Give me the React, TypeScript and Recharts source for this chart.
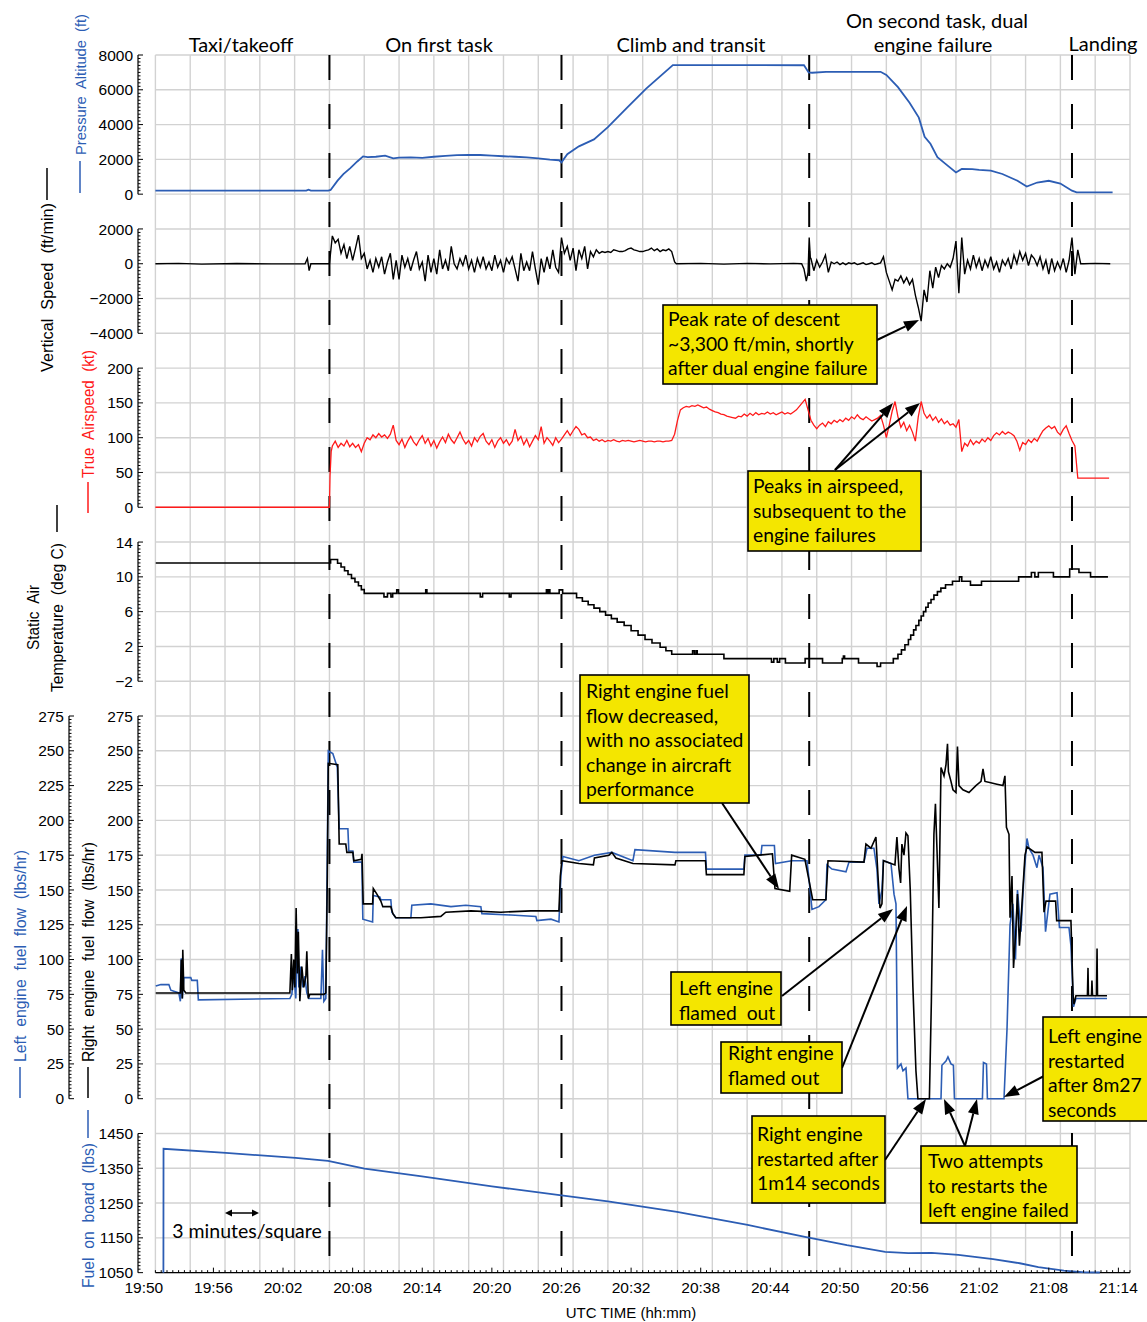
import React from 'react';
import { LineChart, Line, XAxis, YAxis, ReferenceLine } from 'recharts';

// ---------------- layout constants ----------------
const W = 1147;
const H = 1322;
const AXIS_X = 138;
const PLOT_RIGHT = 1130;
const GRID_TOP = 55;
const SQ = 34.79;
const rowY = (k: number) => GRID_TOP + k * SQ;
const T_MIN = -0.5;
const T_MAX = 85;

const BLUE = '#2c5db4';
const RED = '#ff1a1a';
const BLACK = '#000000';
const GRID = '#d2d2d2';
const YELLOW = '#f4e600';
const FONT_TICK = '"Liberation Sans", Arial, Helvetica, sans-serif';
const FONT_NOTE = 'Lato, "Open Sans", "Noto Sans", sans-serif';

// ---------------- data (time t = minutes after 19:50 UTC) ----------------
const xTickMinutes = [0, 6, 12, 18, 24, 30, 36, 42, 48, 54, 60, 66, 72, 78, 84];
const xTickLabels = ['19:50', '19:56', '20:02', '20:08', '20:14', '20:20', '20:26', '20:32', '20:38', '20:44', '20:50', '20:56', '21:02', '21:08', '21:14'];
const phaseBoundaries = [16, 36, 57.35, 80];

const altTicks = [0, 2000, 4000, 6000, 8000];
const vsTicks = [-4000, -2000, 0, 2000];
const tasTicks = [0, 50, 100, 150, 200];
const satTicks = [-2, 2, 6, 10, 14];
const ffTicks = [0, 25, 50, 75, 100, 125, 150, 175, 200, 225, 250, 275];
const fobTicks = [1050, 1150, 1250, 1350, 1450];

// Pressure altitude (ft)
const altitude = [
  [1.0, 200], [5, 205], [10, 200], [14.0, 200], [14.2, 260], [14.4, 205], [15.9, 200], [16.1, 240],
  [16.7, 780], [17.2, 1150], [17.8, 1500], [18.4, 1880], [18.9, 2170], [19.3, 2130], [20.0, 2150],
  [20.8, 2210], [21.5, 2060], [22.0, 2100], [23.0, 2120], [24.0, 2090], [25.0, 2150], [26.0, 2200],
  [27.0, 2240], [28.0, 2260], [29.0, 2250], [30.0, 2220], [31.0, 2180], [32.0, 2150], [33.0, 2120],
  [34.0, 2060], [35.0, 1990], [35.8, 1950], [36.0, 1830], [36.5, 2300], [37.5, 2750], [38.8, 3150],
  [40.0, 3850], [41.7, 5000], [43.3, 6070], [45.6, 7420], [50, 7420], [56.9, 7410], [57.3, 7000],
  [57.6, 6980], [58.8, 7035], [63.5, 7035], [64.0, 6850], [65.0, 6150], [66.0, 5250], [66.8, 4400],
  [67.3, 3300], [67.8, 2900], [68.4, 2120], [69.1, 1740], [70.0, 1250], [70.5, 1450], [71.4, 1440],
  [72.0, 1400], [73.0, 1350], [74.0, 1160], [75.3, 770], [76.1, 440], [77.0, 670], [78.0, 770],
  [79.0, 610], [80.0, 200], [80.4, 100], [83.5, 100],
];

// Vertical speed (ft/min)
const vsStart = [[1, 0], [3, 20], [5, -20], [8, 10], [11, -10], [13.9, 0], [14.1, 300], [14.25, -400], [14.4, 0], [15.9, 0]];
const vsNoiseA = [ // from 16.00, every 0.25 min
  0, 1600, 1200, 1400,
  600, 1100, 300, 1000,
  200, 900, 1650, 300,
  600, -300, 200, -500,
  300, -200, 400, -600,
  100, 600, -900, 200,
  -900, 500, -200, 300,
  -400, 200, 700, -300,
  100, -1000, 500, -500,
  300, -600, 800, -300,
  200, -400, 1000, 0,
  -300, 300, -100, 500,
  -300, 200, -500, 300,
  -200, 400, -300, 100,
  -400, 500, -200, 200,
  -500, 300, 0, 400,
  -300, -1000, 600, -400,
  100, -400, 700, -300,
  -1200, 300, -500, 400,
  -300, 800, -200, -500,
  1500, 600, 1000, 200,
  900, -400, 800, 300,
  1000, -300, 700, 400,
  800, 600, 700, 650,
  700, 650, 800, 750,
  700, 700, 750, 850,
  900, 800, 750, 700,
  700, 750, 800, 900,
  750, 850, 700, 800,
  750, 850, 700, 100,
];
const vsMid = [[45.9, 0], [48, 20], [50, -20], [52, 20], [54, -10], [56, 20], [56.7, 0], [56.9, -300], [57.1, -1000], [57.25, -500], [57.35, 1500], [57.45, 300]];
const vsNoiseB = [ // from 57.50, every 0.25 min
  300, -400,
  200, -200, 100, 500,
  -500, 100, 0, 100,
  -50, 50, -50, 50,
  0, 50, -50, 0,
  50, -50, 0, 50,
  -50, 0, 50, 400,
  -500, -1000, -1500, -900,
  -1000, -700, -1100, -800,
  -1200, -900, -1800, -2500,
  -3300, -1500, -2200, -400,
  -1400, -200, -800, -100,
  -300, 0, -200, 300,
  1300, -1700, 1500, -600,
  200, -300, 500, -200,
  300, -400, 200, -200,
  400, -300, 100, -500,
  200, -100, 300, -300,
  500, 0, 700, 200,
  600, -100, 500, 300,
  -100, 400, -300, 200,
  -600, 300, -400, 100,
  -300, 300, -500, 200,
  1500, -600, 800, 0,
];
const vsEnd = [[81, 0], [82, 20], [83.3, 0]];

// True airspeed (kt)
const tasStart = [[1, 0], [16.0, 0], [16.05, 45], [16.15, 80]];
const tasNoiseA = [ // from 16.25, every 0.25 min
  88, 95, 86,
  92, 88, 96, 87,
  92, 86, 90, 80,
  92, 100, 97, 104,
  100, 106, 101, 104,
  99, 105, 118, 96,
  90, 98, 86, 95,
  102, 94, 89, 97,
  103, 92, 99, 88,
  96, 85, 94, 101,
  93, 105, 97, 92,
  100, 108, 98, 91,
  96, 88, 100, 94,
  102, 106, 95, 90,
  97, 86, 95, 100,
  92, 97, 89, 95,
  112, 96, 102, 90,
  98, 87, 95, 103,
  97, 116, 92, 100,
  95, 89, 100, 93,
  98, 104, 110, 103,
  110, 116, 112, 104,
  106, 100, 101, 96,
  98, 95, 97, 94,
  96, 95, 97, 95,
  94, 96, 95, 96,
  95, 94, 95, 96,
  95, 94, 95, 95,
  94, 95, 95, 94,
  95, 95, 96,
];
const tasNoiseB = [ // from 45.75, every 0.25 min
  105,
  125, 140, 143, 145,
  144, 146, 145, 147,
  145, 143, 144, 141,
  139, 137, 136, 134,
  133, 131, 130, 129,
  128, 131, 130, 134,
  131, 135, 132, 136,
  133, 135, 134, 137,
  134, 136, 133, 135,
  137, 134, 136, 134,
  137, 140, 145, 150,
  155, 140, 125, 118,
  113, 118, 121, 116,
  123, 120, 125, 122,
  126, 123, 128, 125,
  130, 127, 133, 128,
  126, 130, 127, 124,
  126, 128, 132, 118,
  100, 118, 138, 152,
  130, 115, 122, 110,
  118, 108, 95, 130,
  152, 135, 128, 133,
  125, 130, 122, 127,
  120, 124, 118, 120,
  115, 126, 80, 92,
  88, 97, 90, 95,
  92, 98, 94, 100,
  96, 103, 107, 104,
  109, 105, 108, 106,
  103, 95, 82, 93,
  90, 97, 93, 99,
  95, 103, 110, 114,
  117, 113, 116, 108,
  104, 112, 117, 106,
  96, 88, 42,
];
const tasEnd = [[83.2, 42]];

// Static air temperature (deg C), stepped
const sat = [
  [1.03, 11.6], [16.1, 12.0], [16.7, 11.57], [17.0, 11.13], [17.3, 10.7], [17.6, 10.27], [17.9, 9.83],
  [18.2, 9.4], [18.5, 8.97], [18.75, 8.53], [19.0, 8.1], [20.7, 7.7], [21.0, 8.1], [21.3, 7.7],
  [21.45, 8.1], [21.8, 8.5], [21.95, 8.1], [24.3, 8.5], [24.4, 8.1], [29.0, 7.7], [29.2, 8.1],
  [31.5, 7.7], [31.65, 8.1], [34.7, 8.5], [34.8, 8.1], [34.9, 8.5], [35.0, 8.1], [35.8, 8.5],
  [36.1, 8.1], [37.3, 7.6], [37.8, 7.2], [38.3, 6.8], [38.8, 6.4], [39.3, 6.0], [39.8, 5.6],
  [40.3, 5.2], [40.8, 4.8], [41.4, 4.4], [42.0, 3.8], [42.6, 3.3], [43.2, 2.8], [43.8, 2.4],
  [44.5, 1.9], [45.0, 1.5], [45.5, 1.1], [47.3, 1.5], [47.45, 1.1], [47.6, 1.5], [47.7, 1.1],
  [50.0, 0.6], [54.1, 0.2], [54.3, 0.6], [54.6, 0.2], [54.8, 0.6], [55.3, 0.1], [57.0, 0.6],
  [58.5, 0.1], [60.2, 0.6], [60.3, 0.9], [60.4, 0.6], [61.6, 0.1], [63.2, -0.3], [63.5, 0.1],
  [64.6, 0.6], [65.0, 1.1], [65.3, 1.6], [65.6, 2.2], [65.9, 2.8], [66.1, 3.3], [66.35, 3.9],
  [66.55, 4.4], [66.8, 5.0], [67.0, 5.5], [67.2, 6.0], [67.4, 6.5], [67.6, 7.0], [67.85, 7.4],
  [68.1, 7.9], [68.4, 8.3], [68.7, 8.7], [69.1, 9.1], [69.7, 9.5], [70.3, 10.0], [70.5, 9.5],
  [71.25, 9.05], [72.2, 9.5], [75.4, 10.0], [76.5, 10.5], [76.8, 10.0], [77.1, 10.5], [78.4, 10.0],
  [79.8, 10.9], [80.6, 10.5], [81.6, 10.0], [83.1, 10.0],
];

// Left engine fuel flow (lbs/hr)
const ffLeft = [
  [1.03, 81], [1.47, 82], [2.16, 82], [2.33, 78], [3.02, 76], [3.15, 70], [3.23, 101], [3.32, 72],
  [3.45, 87], [4.05, 87], [4.14, 85], [4.61, 85], [4.7, 71], [12.59, 72], [12.76, 75], [12.93, 90],
  [13.1, 72], [13.28, 122], [13.36, 80], [13.53, 95], [13.71, 80], [13.88, 88], [14.05, 76], [14.22, 72],
  [15.26, 72], [15.4, 107], [15.52, 70], [15.69, 72], [15.82, 180], [15.9, 250], [16.29, 248],
  [16.68, 238], [16.84, 194], [17.59, 194], [17.67, 178], [18.02, 178], [18.1, 170], [18.79, 170],
  [18.88, 129], [19.72, 127], [19.78, 146], [20.34, 145], [20.43, 143], [21.29, 143], [21.38, 134],
  [21.72, 130], [23.02, 130], [23.1, 139], [24.74, 140], [26.47, 138], [27.76, 139], [29.05, 138],
  [29.14, 133], [31.64, 132], [33.79, 131], [33.88, 128], [35.09, 129], [35.78, 127], [35.95, 160],
  [36.12, 174], [37.5, 171], [38.84, 175], [40.34, 177], [42.16, 171], [42.33, 179], [45.78, 177],
  [48.41, 177], [48.49, 165], [51.72, 165], [51.81, 175], [53.19, 175], [53.28, 182], [54.35, 182],
  [54.44, 169], [55.84, 171], [57.16, 171], [57.33, 158], [57.59, 136], [58.19, 138], [58.79, 143],
  [58.88, 168], [59.31, 165], [60.52, 163], [60.78, 170], [62.07, 170], [62.33, 180], [62.93, 180],
  [63.19, 165], [63.36, 140], [63.62, 150], [63.75, 171], [64.4, 169], [64.66, 147], [64.83, 140],
  [64.96, 22], [65.26, 25], [65.43, 20], [65.69, 22], [65.86, 0], [68.71, 0], [68.79, 24], [69.14, 27],
  [69.31, 30], [69.57, 25], [69.78, 24], [69.87, 0], [72.28, 0], [72.37, 26], [72.63, 25], [72.71, 0],
  [74.14, 0], [74.4, 50], [74.66, 125], [74.91, 140], [75.13, 100], [75.3, 150], [75.6, 120],
  [75.86, 160], [76.12, 187], [76.29, 180], [76.64, 175], [76.98, 166], [77.16, 175], [77.5, 166],
  [77.72, 120], [78.1, 147], [78.71, 148], [78.92, 123], [79.74, 123], [79.91, 110], [80.13, 66],
  [80.34, 72], [83.02, 72],
];

// Right engine fuel flow (lbs/hr)
const ffRight = [
  [1.03, 76], [3.15, 76], [3.23, 100], [3.32, 72], [3.36, 107], [3.45, 78], [3.62, 76], [12.59, 76],
  [12.72, 104], [12.8, 78], [12.93, 100], [13.02, 80], [13.13, 137], [13.23, 90], [13.32, 120],
  [13.45, 70], [13.62, 95], [13.79, 80], [13.97, 88], [14.05, 106], [14.18, 72], [14.31, 75],
  [15.52, 75], [15.69, 76], [15.82, 160], [15.9, 241], [16.72, 240], [16.84, 183], [17.41, 183],
  [17.5, 177], [18.02, 177], [18.1, 171], [18.75, 172], [18.81, 176], [18.91, 140], [19.72, 140],
  [19.78, 151], [20.09, 147], [20.43, 142], [20.6, 138], [21.29, 138], [21.47, 133], [21.72, 130],
  [23.88, 130], [25.6, 131], [26.03, 134], [28.19, 135], [30.78, 134], [33.36, 135], [35.78, 135],
  [35.9, 160], [36.03, 171], [37.5, 169], [38.75, 168], [38.84, 173], [40.09, 175], [40.34, 177],
  [40.69, 173], [42.16, 169], [45.78, 168], [45.86, 171], [48.41, 171], [48.49, 161], [51.72, 161],
  [51.81, 174], [54.18, 176], [54.4, 151], [55.67, 149], [55.84, 175], [56.98, 172], [57.33, 157],
  [57.65, 143], [58.79, 143], [58.97, 171], [62.07, 170], [62.24, 183], [62.67, 180], [63.1, 188],
  [63.28, 160], [63.45, 137], [63.62, 140], [63.75, 171], [64.74, 168], [64.91, 188], [65.09, 165],
  [65.23, 155], [65.34, 183], [65.52, 175], [65.69, 191], [65.86, 189], [66.06, 150], [66.29, 80],
  [66.55, 20], [66.72, 0], [67.71, 0], [67.88, 70], [68.1, 190], [68.23, 212], [68.36, 180],
  [68.53, 137], [68.71, 238], [68.97, 232], [69.14, 240], [69.27, 255], [69.35, 235], [69.57, 228],
  [69.74, 222], [70.0, 220], [70.13, 253], [70.26, 225], [70.6, 222], [71.12, 220], [71.72, 225],
  [72.16, 228], [72.33, 237], [72.5, 228], [73.0, 227], [73.53, 226], [74.05, 225], [74.22, 232],
  [74.35, 195], [74.57, 190], [74.66, 130], [74.83, 160], [74.96, 94], [75.14, 118], [75.3, 147],
  [75.47, 110], [75.69, 140], [75.95, 175], [76.12, 181], [76.81, 177], [77.41, 177], [77.59, 134],
  [77.76, 142], [78.59, 142], [78.68, 128], [79.91, 128], [80.09, 75], [80.17, 68], [80.34, 74],
  [81.33, 74], [81.38, 94], [81.42, 74], [81.68, 74], [81.72, 85], [81.77, 74], [82.11, 74],
  [82.16, 108], [82.2, 74], [83.02, 74],
];

// Fuel on board (lbs)
const fuelOnBoard = [
  [1.69, 1050], [1.7, 1406], [7.07, 1394], [13.08, 1380], [15.88, 1371], [19.02, 1349], [23.97, 1327],
  [30.0, 1298], [36.0, 1272], [40.0, 1255], [45.95, 1225], [52.04, 1187], [56.98, 1153], [60.6, 1129],
  [63.9, 1110], [65.9, 1106], [67.9, 1107], [70.2, 1101], [73.2, 1089], [75.5, 1077], [77.1, 1066],
  [79.3, 1056], [81.1, 1051], [82.4, 1050.5],
];

// ---------------- helpers ----------------
type Pt = { t: number; v: number };
const fromPairs = (a: number[][]): Pt[] => a.map(([t, v]) => ({ t, v }));
const fromSamples = (start: number, step: number, vals: number[]): Pt[] =>
  vals.map((v, i) => ({ t: Math.round((start + i * step) * 1000) / 1000, v }));

const altData = fromPairs(altitude);
const vsData = [
  ...fromPairs(vsStart),
  ...fromSamples(16, 0.25, vsNoiseA),
  ...fromPairs(vsMid),
  ...fromSamples(57.5, 0.25, vsNoiseB),
  ...fromPairs(vsEnd),
];
const tasData = [
  ...fromPairs(tasStart),
  ...fromSamples(16.25, 0.25, tasNoiseA),
  ...fromSamples(45.75, 0.25, tasNoiseB),
  ...fromPairs(tasEnd),
];
const satData = fromPairs(sat);
const ffLeftData = fromPairs(ffLeft);
const ffRightData = fromPairs(ffRight);
const fobData = fromPairs(fuelOnBoard);

const withMinor = (majors: number[], div: number) => {
  const out: number[] = [];
  for (let i = 0; i < majors.length - 1; i++) {
    const a = majors[i];
    const b = majors[i + 1];
    for (let j = 0; j < div; j++) out.push(Math.round((a + ((b - a) * j) / div) * 10000) / 10000);
  }
  out.push(majors[majors.length - 1]);
  return out;
};
const fmtNum = (v: number) => (v < 0 ? '\u2212' + Math.abs(v) : String(v));

const yTick = (axisX: number, majors: number[]) => (props: any) => {
  const v = props.payload.value;
  const y = props.y;
  const major = majors.some((m) => Math.abs(m - v) < 1e-6);
  return (
    <g>
      <line x1={axisX} x2={axisX + (major ? 5 : 2.5)} y1={y} y2={y} stroke={BLACK} strokeWidth={1} />
      {major ? (
        <text x={axisX - 5} y={y} dy="0.36em" textAnchor="end" fontSize={15.5} fontFamily={FONT_TICK} fill={BLACK}>
          {fmtNum(v)}
        </text>
      ) : null}
    </g>
  );
};

const xMinor: number[] = [];
for (let t = 1; t <= 85.001; t += 0.5) xMinor.push(Math.round(t * 10) / 10);
const xAllTicks = Array.from(new Set([...xTickMinutes, ...xMinor])).sort((a, b) => a - b);
const X_AXIS_Y = rowY(35);
const xTick = (props: any) => {
  const v = props.payload.value;
  const x = props.x;
  const idx = xTickMinutes.indexOf(v);
  return (
    <g>
      {v >= 1 ? <line x1={x} x2={x} y1={X_AXIS_Y} y2={X_AXIS_Y - (idx >= 0 ? 5 : 2.5)} stroke={BLACK} strokeWidth={1} /> : null}
      {idx >= 0 ? (
        <text x={x} y={X_AXIS_Y + 20} textAnchor="middle" fontSize={15.5} fontFamily={FONT_TICK} fill={BLACK}>
          {xTickLabels[idx]}
        </text>
      ) : null}
    </g>
  );
};

const gridRows: number[] = [];
for (let r = 0; r <= 35; r++) gridRows.push(r);
const gridCols: number[] = [];
for (let c = 1; c <= 85; c += 3) gridCols.push(c);

const Layer = ({ children }: { children: React.ReactNode }) => (
  <div style={{ position: 'absolute', left: 0, top: 0, width: W, height: H }}>{children}</div>
);

const panelMargin = (r0: number, r1: number, axesW: number, bottomExtra = 0) => ({
  top: rowY(r0),
  bottom: H - rowY(r1) - bottomExtra,
  left: AXIS_X - axesW,
  right: W - PLOT_RIGHT,
});

const axisLineStyle = { stroke: BLACK, strokeWidth: 1.2 };

// ---------------- annotations (layout) ----------------
const notes = [
  { x: 663, y: 305, w: 214, h: 79, tx: 668, ty: 326, lines: ['Peak rate of descent', '~3,300 ft/min, shortly', 'after dual engine failure'] },
  { x: 748, y: 471, w: 173, h: 80, tx: 753, ty: 493, lines: ['Peaks in airspeed,', 'subsequent to the', 'engine failures'] },
  { x: 580, y: 675, w: 169, h: 128, tx: 586, ty: 698, lines: ['Right engine fuel', 'flow decreased,', 'with no associated', 'change in aircraft', 'performance'] },
  { x: 671, y: 972, w: 110, h: 53, tx: 679, ty: 995, lines: ['Left engine', 'flamed  out'] },
  { x: 721, y: 1042, w: 121, h: 51, tx: 728, ty: 1060, lines: ['Right engine', 'flamed out'] },
  { x: 752, y: 1116, w: 133, h: 87, tx: 757, ty: 1141, lines: ['Right engine', 'restarted after', '1m14 seconds'] },
  { x: 921, y: 1146, w: 156, h: 77, tx: 928, ty: 1168, lines: ['Two attempts', 'to restarts the', 'left engine failed'] },
  { x: 1043, y: 1017, w: 110, h: 104, tx: 1048, ty: 1043, lines: ['Left engine', 'restarted', 'after 8m27', 'seconds'] },
];
const arrows = [
  [877, 340, 919, 320],
  [835, 470, 893, 403],
  [835, 470, 920, 403],
  [722, 803, 779, 889],
  [782, 996, 893, 909],
  [842, 1068, 907, 906],
  [885, 1160, 926, 1099],
  [965, 1146, 944, 1099],
  [965, 1146, 977, 1099],
  [1044, 1076, 1004, 1097],
];
const phaseTitles = [
  { x: 241, y: 52, text: 'Taxi/takeoff' },
  { x: 439, y: 52, text: 'On first task' },
  { x: 691, y: 52, text: 'Climb and transit' },
  { x: 937, y: 28, text: 'On second task, dual' },
  { x: 933, y: 52, text: 'engine failure' },
  { x: 1103, y: 51, text: 'Landing' },
];
const axisTitles = [
  { cx: 80, yb: 155, len: 141, size: 15, text: 'Pressure  Altitude  (ft)', color: BLUE, l0: 193, l1: 161 },
  { cx: 47, yb: 372, len: 169, size: 16, text: 'Vertical  Speed  (ft/min)', color: BLACK, l0: 200, l1: 168 },
  { cx: 88, yb: 478, len: 128, size: 16, text: 'True  Airspeed  (kt)', color: RED, l0: 513, l1: 482 },
  { cx: 33, yb: 650, len: 65, size: 16, text: 'Static  Air', color: BLACK, l0: 0, l1: 0 },
  { cx: 57, yb: 692, len: 149, size: 16, text: 'Temperature  (deg C)', color: BLACK, l0: 532, l1: 505 },
  { cx: 20, yb: 1062, len: 212, size: 16, text: 'Left  engine  fuel  flow  (lbs/hr)', color: BLUE, l0: 1098, l1: 1067 },
  { cx: 88, yb: 1062, len: 220, size: 16, text: 'Right  engine  fuel  flow  (lbs/hr)', color: BLACK, l0: 1098, l1: 1067 },
  { cx: 88, yb: 1288, len: 145, size: 16, text: 'Fuel  on  board  (lbs)', color: BLUE, l0: 1138, l1: 1110 },
];

const Arrow = ({ a }: { a: number[] }) => {
  const [x1, y1, x2, y2] = a;
  const ang = Math.atan2(y2 - y1, x2 - x1);
  const L = 15;
  const hw = 5.5;
  const bx = x2 - L * Math.cos(ang);
  const by = y2 - L * Math.sin(ang);
  const px = -Math.sin(ang) * hw;
  const py = Math.cos(ang) * hw;
  return (
    <g>
      <line x1={x1} y1={y1} x2={bx} y2={by} stroke={BLACK} strokeWidth={2} />
      <polygon points={`${x2},${y2} ${bx + px},${by + py} ${bx - px},${by - py}`} fill={BLACK} />
    </g>
  );
};

// ---------------- component ----------------
export default function App() {
  return (
    <div style={{ position: 'absolute', left: 0, top: 0, width: W, height: H, background: '#fff', overflow: 'hidden' }}>
      {/* grid layer */}
      <Layer>
        <LineChart width={W} height={H} margin={{ top: rowY(0), bottom: H - rowY(35), left: AXIS_X, right: W - PLOT_RIGHT }} data={[{ t: 1 }, { t: 85 }]}>
          <XAxis type="number" dataKey="t" domain={[T_MIN, T_MAX]} hide allowDataOverflow />
          <YAxis type="number" domain={[0, 35]} reversed hide allowDataOverflow />
          {gridRows.map((r) => (
            <ReferenceLine key={'h' + r} segment={[{ x: 1, y: r }, { x: 85, y: r }]} stroke={GRID} strokeWidth={1.4} />
          ))}
          {gridCols.map((c) => (
            <ReferenceLine key={'v' + c} segment={[{ x: c, y: 0 }, { x: c, y: 35 }]} stroke={GRID} strokeWidth={1.4} />
          ))}
          {phaseBoundaries.map((b) => (
            <ReferenceLine key={'p' + b} segment={[{ x: b, y: 0 }, { x: b, y: 35 }]} stroke={BLACK} strokeWidth={2} strokeDasharray="25 24" />
          ))}
        </LineChart>
      </Layer>

      {/* Pressure altitude */}
      <Layer>
        <LineChart width={W} height={H} margin={panelMargin(0, 4, 60)}>
          <XAxis type="number" dataKey="t" domain={[T_MIN, T_MAX]} hide allowDataOverflow />
          <YAxis type="number" domain={[0, 8000]} ticks={withMinor(altTicks, 10)} interval={0} width={60} tick={yTick(AXIS_X, altTicks)} tickLine={false} tickSize={0} tickMargin={0} axisLine={axisLineStyle} />
          <Line data={altData} dataKey="v" stroke={BLUE} strokeWidth={1.8} dot={false} isAnimationActive={false} />
        </LineChart>
      </Layer>

      {/* Vertical speed */}
      <Layer>
        <LineChart width={W} height={H} margin={panelMargin(5, 8, 60)}>
          <XAxis type="number" dataKey="t" domain={[T_MIN, T_MAX]} hide allowDataOverflow />
          <YAxis type="number" domain={[-4000, 2000]} ticks={withMinor(vsTicks, 10)} interval={0} width={60} tick={yTick(AXIS_X, vsTicks)} tickLine={false} tickSize={0} tickMargin={0} axisLine={axisLineStyle} />
          <Line data={vsData} dataKey="v" stroke={BLACK} strokeWidth={1.4} dot={false} isAnimationActive={false} />
        </LineChart>
      </Layer>

      {/* True airspeed */}
      <Layer>
        <LineChart width={W} height={H} margin={panelMargin(9, 13, 60)}>
          <XAxis type="number" dataKey="t" domain={[T_MIN, T_MAX]} hide allowDataOverflow />
          <YAxis type="number" domain={[0, 200]} ticks={withMinor(tasTicks, 10)} interval={0} width={60} tick={yTick(AXIS_X, tasTicks)} tickLine={false} tickSize={0} tickMargin={0} axisLine={axisLineStyle} />
          <Line data={tasData} dataKey="v" stroke={RED} strokeWidth={1.3} dot={false} isAnimationActive={false} />
        </LineChart>
      </Layer>

      {/* Static air temperature */}
      <Layer>
        <LineChart width={W} height={H} margin={panelMargin(14, 18, 60)}>
          <XAxis type="number" dataKey="t" domain={[T_MIN, T_MAX]} hide allowDataOverflow />
          <YAxis type="number" domain={[-2, 14]} ticks={withMinor(satTicks, 10)} interval={0} width={60} tick={yTick(AXIS_X, satTicks)} tickLine={false} tickSize={0} tickMargin={0} axisLine={axisLineStyle} />
          <Line data={satData} dataKey="v" type="stepAfter" stroke={BLACK} strokeWidth={1.6} dot={false} isAnimationActive={false} />
        </LineChart>
      </Layer>

      {/* Fuel flows */}
      <Layer>
        <LineChart width={W} height={H} margin={panelMargin(19, 30, 138)}>
          <XAxis type="number" dataKey="t" domain={[T_MIN, T_MAX]} hide allowDataOverflow />
          <YAxis yAxisId="R" type="number" domain={[0, 275]} ticks={withMinor(ffTicks, 10)} interval={0} width={69} tick={yTick(AXIS_X, ffTicks)} tickLine={false} tickSize={0} tickMargin={0} axisLine={axisLineStyle} />
          <YAxis yAxisId="L" type="number" domain={[0, 275]} ticks={withMinor(ffTicks, 10)} interval={0} width={69} tick={yTick(AXIS_X - 69, ffTicks)} tickLine={false} tickSize={0} tickMargin={0} axisLine={axisLineStyle} />
          <Line yAxisId="L" data={ffLeftData} dataKey="v" stroke={BLUE} strokeWidth={1.6} dot={false} isAnimationActive={false} />
          <Line yAxisId="R" data={ffRightData} dataKey="v" stroke={BLACK} strokeWidth={1.6} dot={false} isAnimationActive={false} />
        </LineChart>
      </Layer>

      {/* Fuel on board */}
      <Layer>
        <LineChart width={W} height={H} margin={panelMargin(31, 35, 60, 30)}>
          <XAxis type="number" dataKey="t" domain={[T_MIN, T_MAX]} ticks={xAllTicks} interval={0} height={30} tick={xTick} tickLine={false} tickSize={0} tickMargin={0} axisLine={false} allowDataOverflow />
          <YAxis type="number" domain={[1050, 1450]} ticks={withMinor(fobTicks, 10)} interval={0} width={60} tick={yTick(AXIS_X, fobTicks)} tickLine={false} tickSize={0} tickMargin={0} axisLine={axisLineStyle} />
          <ReferenceLine segment={[{ x: 1, y: 1050 }, { x: 85, y: 1050 }]} stroke={BLACK} strokeWidth={1.2} />
          <Line data={fobData} dataKey="v" stroke={BLUE} strokeWidth={1.8} dot={false} isAnimationActive={false} />
        </LineChart>
      </Layer>

      {/* text & annotation overlay */}
      <svg width={W} height={H} style={{ position: 'absolute', left: 0, top: 0, pointerEvents: 'none' }}>
        {phaseTitles.map((p, i) => (
          <text key={'ph' + i} x={p.x} y={p.y} textAnchor="middle" fontSize={20} fontFamily={FONT_NOTE} fill={BLACK}>
            {p.text}
          </text>
        ))}
        {axisTitles.map((a, i) => (
          <g key={'at' + i}>
            <text
              transform={`translate(${a.cx + 6},${a.yb}) rotate(-90)`}
              fontSize={a.size}
              fontFamily={FONT_TICK}
              fill={a.color}
              textLength={a.len}
              lengthAdjust="spacingAndGlyphs"
              style={{ whiteSpace: 'pre' }}
            >
              {a.text}
            </text>
            {a.l0 ? <line x1={a.cx} x2={a.cx} y1={a.l0} y2={a.l1} stroke={a.color} strokeWidth={1.5} /> : null}
          </g>
        ))}
        <text x={631} y={1318} textAnchor="middle" fontSize={15} fontFamily={FONT_TICK} fill={BLACK}>
          UTC TIME (hh:mm)
        </text>
        {/* 3 minutes/square scale */}
        <line x1={229} x2={255} y1={1213} y2={1213} stroke={BLACK} strokeWidth={1.5} />
        <polygon points="225,1213 232,1209.5 232,1216.5" fill={BLACK} />
        <polygon points="259,1213 252,1209.5 252,1216.5" fill={BLACK} />
        <text x={247} y={1238} textAnchor="middle" fontSize={19.5} fontFamily={FONT_NOTE} fill={BLACK}>
          3 minutes/square
        </text>
        {arrows.map((a, i) => (
          <Arrow key={'ar' + i} a={a} />
        ))}
        {notes.map((n, i) => (
          <g key={'n' + i}>
            <rect x={n.x} y={n.y} width={n.w} height={n.h} fill={YELLOW} stroke={BLACK} strokeWidth={1.6} />
            {n.lines.map((l, j) => (
              <text key={j} x={n.tx} y={n.ty + j * 24.5} fontSize={19.3} fontFamily={FONT_NOTE} fill={BLACK} style={{ whiteSpace: 'pre' }}>
                {l}
              </text>
            ))}
          </g>
        ))}
      </svg>
    </div>
  );
}
